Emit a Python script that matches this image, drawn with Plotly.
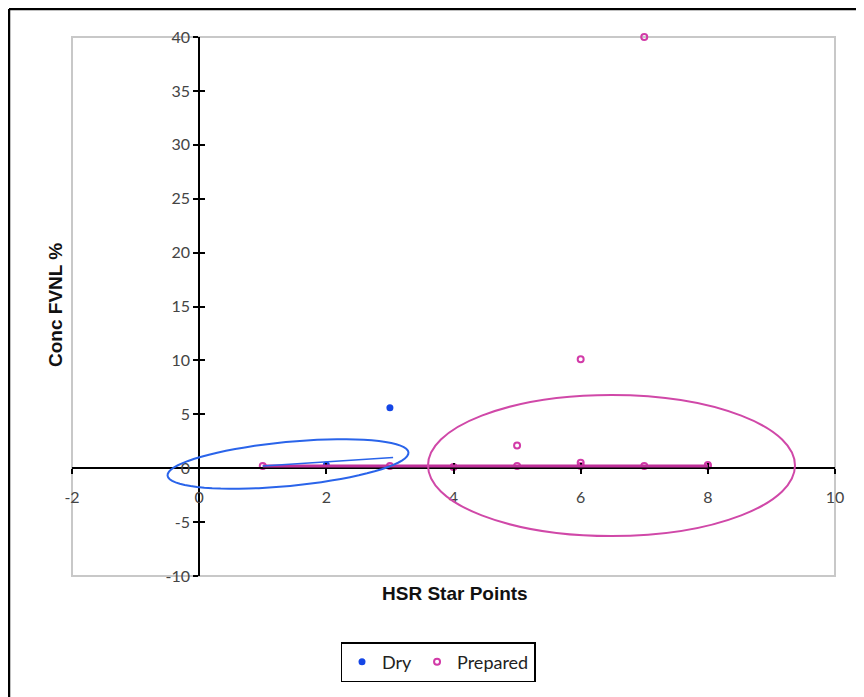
import numpy as np
import plotly.graph_objects as go

# ---- data ----
dry_x = [2, 3]
dry_y = [0.3, 5.6]
prep_x = [1, 3, 4, 5, 5, 6, 6, 6, 7, 7, 8, 8]
prep_y = [0.2, 0.2, 0.1, 0.2, 2.1, 0.2, 0.5, 10.1, 0.2, 40.0, 0.2, 0.3]
x_ticks = [-2, 0, 2, 4, 6, 8, 10]
x_tick_labels = ["-2", "0", "2", "4", "6", "8", "10"]
y_ticks = [-10, -5, 0, 5, 10, 15, 20, 25, 30, 35, 40]
y_tick_labels = ["-10", "-5", "0", "5", "10", "15", "20", "25", "30", "35", "40"]

# hand-drawn annotation lines (data units)
blue_line = ([1.0, 3.05], [0.2, 1.0])
pink_line = ([1.0, 8.0], [0.2, 0.2])

OFF = 8  # page body margin
W, H = 864, 697
PW, PH = 763, 539
ML, MT = 72 - OFF, 37 - OFF
MR = W - ML - PW
MB = H - MT - PH
XR = [-2, 10]
YR = [-10, 40]

def pxp(px):  # reference pixel x -> paper
    return (px - 72) / PW

def pyp(py):  # reference pixel y -> paper
    return (37 + PH - py) / PH

def px_to_data(px, py):
    x = XR[0] + (px - 72) / PW * (XR[1] - XR[0])
    y = YR[1] - (py - 37) / PH * (YR[1] - YR[0])
    return x, y

fig = go.Figure()
fig.add_trace(go.Scatter(x=dry_x, y=dry_y, mode="markers", name="Dry",
                         marker=dict(symbol="circle", size=7, color="#1446e6"),
                         cliponaxis=False))
fig.add_trace(go.Scatter(x=prep_x, y=prep_y, mode="markers", name="Prepared",
                         marker=dict(symbol="circle-open", size=6, color="#d23ba8",
                                     line=dict(width=2, color="#d23ba8")),
                         cliponaxis=False))
# invisible trace to host the overlay axes (cross tick marks)
fig.add_trace(go.Scatter(x=[None], y=[None], xaxis="x2", yaxis="y2",
                         showlegend=False, hoverinfo="skip"))

shapes = []
# plot-area border
shapes.append(dict(type="rect", xref="paper", yref="paper", x0=0, x1=1, y0=0, y1=1,
                   line=dict(color="#c8c8c8", width=2), layer="below"))
# outer frame (top and left)
fx0 = pxp(9)
fy0 = pyp(9)
shapes.append(dict(type="line", xref="paper", yref="paper", x0=fx0, x1=pxp(880),
                   y0=fy0, y1=fy0, line=dict(color="black", width=2.5)))
shapes.append(dict(type="line", xref="paper", yref="paper", x0=fx0, x1=fx0,
                   y0=fy0, y1=pyp(720), line=dict(color="black", width=2.5)))

# annotation lines
shapes.append(dict(type="line", xref="x", yref="y", x0=pink_line[0][0], x1=pink_line[0][1],
                   y0=pink_line[1][0], y1=pink_line[1][1], line=dict(color="#c0309a", width=3)))
shapes.append(dict(type="line", xref="x", yref="y", x0=blue_line[0][0], x1=blue_line[0][1],
                   y0=blue_line[1][0], y1=blue_line[1][1], line=dict(color="#2a64ea", width=1.5)))

# blue tilted ellipse (drawn in pixel space, converted)
cx, cy, a, b, ang = 288, 464, 121, 22, np.deg2rad(-5.5)
t = np.linspace(0, 2 * np.pi, 73)
pxs = cx + a * np.cos(t) * np.cos(ang) - b * np.sin(t) * np.sin(ang)
pys = cy + a * np.cos(t) * np.sin(ang) + b * np.sin(t) * np.cos(ang)
pts = [px_to_data(u, v) for u, v in zip(pxs, pys)]
path = "M " + " L ".join(f"{x:.4f},{y:.4f}" for x, y in pts) + " Z"
shapes.append(dict(type="path", xref="x", yref="y", path=path,
                   line=dict(color="#2a64ea", width=2)))
# pink ellipse
ex0, ey0 = px_to_data(428, 536)
ex1, ey1 = px_to_data(795, 395)
shapes.append(dict(type="circle", xref="x", yref="y", x0=ex0, x1=ex1, y0=ey0, y1=ey1,
                   line=dict(color="#d048a8", width=2)))

tickfont = dict(family="Lato, Open Sans, sans-serif", size=16, color="#444")
xpos = (0 - YR[0]) / (YR[1] - YR[0])
ypos = (0 - XR[0]) / (XR[1] - XR[0])

fig.update_layout(
    width=W, height=H,
    margin=dict(l=ML, r=MR, t=MT, b=MB),
    paper_bgcolor="white", plot_bgcolor="white",
    showlegend=True,
    legend=dict(orientation="h", x=pxp(438), y=pyp(662),
                xanchor="center", yanchor="middle",
                bordercolor="black", borderwidth=1.5, bgcolor="white",
                font=dict(family="Lato, Open Sans, sans-serif", size=18, color="#222"),
                itemwidth=30, tracegroupgap=0),
    shapes=shapes,
    xaxis=dict(range=XR, tickvals=x_ticks, ticktext=x_tick_labels, anchor="free",
               position=xpos,
               showline=True, linecolor="black", linewidth=2,
               ticks="outside", ticklen=5, tickwidth=1.5, tickcolor="black",
               ticklabelstandoff=10,
               showgrid=False, zeroline=False, tickfont=tickfont),
    yaxis=dict(range=YR, tickvals=y_ticks, ticktext=y_tick_labels, anchor="free",
               position=ypos,
               showline=True, linecolor="black", linewidth=2,
               ticks="outside", ticklen=5, tickwidth=1.5, tickcolor="black",
               showgrid=False, zeroline=False, tickfont=tickfont),
    xaxis2=dict(range=XR, tickvals=x_ticks, overlaying="x", anchor="free", position=xpos,
                side="bottom", showline=False, ticks="inside", ticklen=5, tickwidth=1.5,
                tickcolor="black", showticklabels=False, showgrid=False, zeroline=False),
    yaxis2=dict(range=YR, tickvals=y_ticks, overlaying="y", anchor="free", position=ypos,
                side="left", showline=False, ticks="inside", ticklen=5, tickwidth=1.5,
                tickcolor="black", showticklabels=False, showgrid=False, zeroline=False),
    annotations=[
        dict(text="<b>HSR Star Points</b>", xref="paper", yref="paper",
             x=pxp(455), y=pyp(593), showarrow=False,
             xanchor="center", yanchor="middle",
             font=dict(family="Liberation Sans, Arial, sans-serif", size=19, color="#111")),
        dict(text="<b>Conc FVNL %</b>", xref="paper", yref="paper",
             x=pxp(55), y=pyp(305), showarrow=False, textangle=-90,
             xanchor="center", yanchor="middle",
             font=dict(family="Liberation Sans, Arial, sans-serif", size=19, color="#111")),
    ],
)

fig.write_html("out.html")
